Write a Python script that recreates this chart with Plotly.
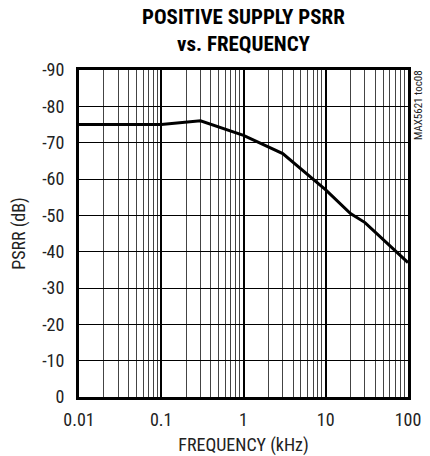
import plotly.graph_objects as go

freq_khz = [0.01, 0.1, 0.3, 1, 3, 10, 20, 30, 100]
psrr_db = [-75, -75, -76, -72, -67, -57, -50.5, -48, -37]

x_ticks = [0.01, 0.1, 1, 10, 100]
x_ticktext = ["0.01", "0.1", "1", "10", "100"]
y_ticks = [0, -10, -20, -30, -40, -50, -60, -70, -80, -90]
y_ticktext = ["0", "-10", "-20", "-30", "-40", "-50", "-60", "-70", "-80", "-90"]
title_lines = ["POSITIVE SUPPLY PSRR", "vs. FREQUENCY"]

FONT = "Liberation Sans Narrow, Roboto Condensed, Arial Narrow, Roboto, sans-serif"

fig = go.Figure()
fig.add_trace(go.Scatter(x=freq_khz, y=psrr_db, mode="lines",
                         line=dict(color="black", width=3), showlegend=False,
                         hoverinfo="skip"))

fig.update_layout(
    width=430, height=456,
    paper_bgcolor="white", plot_bgcolor="white",
    margin=dict(l=79, r=22, t=70, b=59),
    font=dict(family=FONT, size=18, color="#222"),
)
for line, shift in zip(title_lines, [53, 26]):
    fig.add_annotation(text="<b>" + line + "</b>",
                       xref="paper", yref="paper", x=0.5, y=1.0,
                       xanchor="center", yanchor="middle", yshift=shift,
                       showarrow=False,
                       font=dict(family=FONT, size=21, color="black"))
fig.update_xaxes(
    type="log", range=[-2, 2], automargin=False,
    tickvals=x_ticks, ticktext=x_ticktext,
    showgrid=True, gridcolor="black", gridwidth=1.5,
    minor=dict(dtick="D1", showgrid=True, gridcolor="#444", gridwidth=1, ticks=""),
    showline=True, linecolor="black", linewidth=3, mirror=True,
    ticks="", zeroline=False, ticklabelstandoff=4,
    title=dict(text="FREQUENCY (kHz)", standoff=13, font=dict(size=18)),
    tickfont=dict(size=18),
)
fig.update_yaxes(
    range=[0, -90], automargin=False,
    tickvals=y_ticks, ticktext=y_ticktext,
    showgrid=True, gridcolor="black", gridwidth=1,
    showline=True, linecolor="black", linewidth=3, mirror=True,
    ticks="", zeroline=False, ticklabelstandoff=8,
    title=dict(text="PSRR (dB)", standoff=12, font=dict(size=18)),
    tickfont=dict(size=18),
)
fig.add_annotation(text="MAX5621 toc08", xref="paper", yref="paper",
                   x=1.0, y=1.0, xshift=10, yshift=2, xanchor="center", yanchor="top",
                   textangle=-90, showarrow=False,
                   font=dict(family=FONT, size=11, color="#222"))

fig.write_html("out.html",
               config={"displayModeBar": False},
               post_script="document.body.style.margin='0';document.body.style.overflow='hidden';")
